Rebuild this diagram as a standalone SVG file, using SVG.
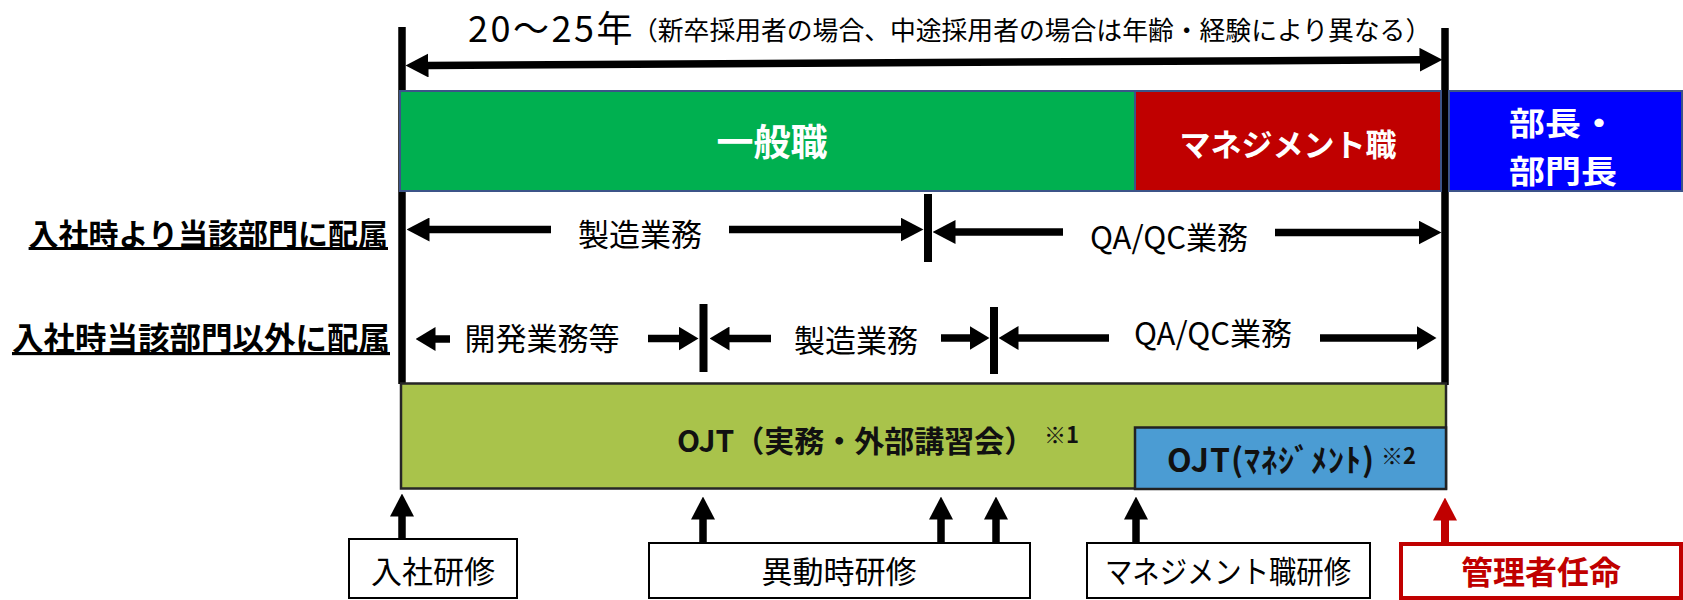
<svg xmlns="http://www.w3.org/2000/svg" width="1683" height="600" viewBox="0 0 1683 600">
<style>
text{font-family:"Noto Sans CJK JP","Noto Sans",sans-serif;}
.w{fill:#fff;font-weight:bold;text-anchor:middle;}
.b{fill:#000;text-anchor:middle;font-size:31px;}
.lbl{font-weight:bold;text-anchor:end;text-decoration:underline;fill:#000;}
.ln{stroke:#000;stroke-width:7.5;fill:none;}
.tk{stroke:#000;stroke-width:8;}
.box{fill:#fff;stroke:#000;stroke-width:2;}
.top{stroke:#3C5488;stroke-width:2;}
.ojt{font-weight:bold;fill:#111;}
</style>
<defs>
<marker id="ah" markerUnits="userSpaceOnUse" viewBox="0 0 23 24" markerWidth="23" markerHeight="24" refX="0.5" refY="12" orient="auto-start-reverse"><path d="M0,0 L23,12 L0,24 z" fill="#000"/></marker>
<marker id="ah2" markerUnits="userSpaceOnUse" viewBox="0 0 20 24" markerWidth="20" markerHeight="24" refX="0.5" refY="12" orient="auto"><path d="M0,0 L20,12 L0,24 z" fill="#000"/></marker>
<marker id="ahr" markerUnits="userSpaceOnUse" viewBox="0 0 23 24" markerWidth="23" markerHeight="24" refX="0.5" refY="12" orient="auto"><path d="M0,0 L23,12 L0,24 z" fill="#C00000"/></marker>
</defs>

<g id="connectors">
<line class="ln" x1="402" y1="27" x2="402" y2="384" stroke-width="7"/>
<line class="ln" x1="1445" y1="28" x2="1445" y2="385" stroke-width="7"/>
<path class="ln" d="M428,65.4 L1420,59.8" marker-start="url(#ah)" marker-end="url(#ah)"/>
<!-- row 1 -->
<line class="ln" x1="551" y1="229.5" x2="429" y2="229.5" marker-end="url(#ah)"/>
<line class="ln" x1="729" y1="229.5" x2="901" y2="229.5" marker-end="url(#ah)"/>
<line class="ln" x1="1063" y1="232" x2="955" y2="232" marker-end="url(#ah)"/>
<line class="ln" x1="1275" y1="232.5" x2="1419" y2="232.5" marker-end="url(#ah)"/>
<line class="tk" x1="928" y1="194" x2="928" y2="262"/>
<!-- row 2 -->
<line class="ln" x1="450" y1="339" x2="435" y2="339" marker-end="url(#ah2)"/>
<line class="ln" x1="648" y1="338.5" x2="679" y2="338.5" marker-end="url(#ah2)"/>
<line class="ln" x1="771" y1="338.5" x2="729" y2="338.5" marker-end="url(#ah2)"/>
<line class="ln" x1="941" y1="338" x2="970" y2="338" marker-end="url(#ah2)"/>
<line class="ln" x1="1109" y1="338" x2="1018" y2="338" marker-end="url(#ah2)"/>
<line class="ln" x1="1320" y1="338" x2="1417" y2="338" marker-end="url(#ah2)"/>
<line class="tk" x1="703.5" y1="304" x2="703.5" y2="372"/>
<line class="tk" x1="994" y1="307" x2="994" y2="374"/>
<!-- up arrows -->
<line class="ln" x1="402" y1="540" x2="402" y2="516" marker-end="url(#ah)"/>
<line class="ln" x1="703" y1="543" x2="703" y2="519" marker-end="url(#ah)"/>
<line class="ln" x1="941" y1="543" x2="941" y2="519" marker-end="url(#ah)"/>
<line class="ln" x1="996" y1="543" x2="996" y2="519" marker-end="url(#ah)"/>
<line class="ln" x1="1136" y1="543" x2="1136" y2="519" marker-end="url(#ah)"/>
<line x1="1445" y1="543" x2="1445" y2="520" stroke="#C00000" stroke-width="8" marker-end="url(#ahr)"/>
</g>

<g id="title">
<text x="468" y="42" font-size="36" letter-spacing="2.5">20～25年</text>
<text x="632" y="40" font-size="25.8">（新卒採用者の場合、中途採用者の場合は年齢・経験により異なる）</text>
</g>

<g id="ippan">
<rect class="top" x="400" y="91" width="735" height="100" fill="#00B050"/>
<text class="w" x="772" y="156" font-size="37">一般職</text>
</g>
<g id="management">
<rect class="top" x="1135" y="91" width="306" height="100" fill="#C00000"/>
<text class="w" x="1288" y="156" font-size="31">マネジメント職</text>
</g>
<g id="buchou">
<rect class="top" x="1449" y="91" width="233" height="100" fill="#0000FF"/>
<text class="w" font-size="32"><tspan x="1563" y="135" textLength="108" lengthAdjust="spacingAndGlyphs">部長・</tspan><tspan x="1563" y="183" textLength="108" lengthAdjust="spacingAndGlyphs">部門長</tspan></text>
</g>

<g id="row-labels">
<text class="lbl" x="388" y="245" font-size="30">入社時より当該部門に配属</text>
<text class="lbl" x="390" y="350" font-size="31.5">入社時当該部門以外に配属</text>
</g>

<g id="row1-texts">
<text class="b" x="640" y="246">製造業務</text>
<text class="b" x="1169" y="249">QA/QC業務</text>
</g>
<g id="row2-texts">
<text class="b" x="542" y="350">開発業務等</text>
<text class="b" x="856" y="352">製造業務</text>
<text class="b" x="1213" y="345">QA/QC業務</text>
</g>

<g id="ojt">
<rect x="401" y="383.5" width="1045" height="105" fill="#A9C34B" stroke="#262626" stroke-width="2.5"/>
<text class="ojt" x="677" y="452" font-size="30">OJT（実務・外部講習会）</text>
<text class="ojt" x="1044" y="443" font-size="22">※1</text>
</g>
<g id="ojt-management">
<rect x="1135" y="427.5" width="311" height="61.5" fill="#4B9CD3" stroke="#222" stroke-width="2.5"/>
<text class="ojt" x="1167" y="472" font-size="32" letter-spacing="1">OJT(ﾏﾈｼﾞﾒﾝﾄ)</text>
<text class="ojt" x="1381" y="464" font-size="22">※2</text>
</g>

<g id="nyusha-kenshu">
<rect class="box" x="349" y="539" width="168" height="59"/>
<text class="b" x="433" y="583">入社研修</text>
</g>
<g id="idou-kenshu">
<rect class="box" x="649" y="543" width="381" height="55"/>
<text class="b" x="839" y="583">異動時研修</text>
</g>
<g id="mgmt-kenshu">
<rect class="box" x="1087" y="543" width="283" height="55"/>
<text class="b" x="1228" y="583" textLength="246" lengthAdjust="spacingAndGlyphs">マネジメント職研修</text>
</g>
<g id="kanrisha">
<rect x="1401" y="544" width="280" height="54" fill="#fff" stroke="#C00000" stroke-width="4"/>
<text x="1541" y="584" font-size="32" font-weight="bold" fill="#C00000" text-anchor="middle">管理者任命</text>
</g>
</svg>
